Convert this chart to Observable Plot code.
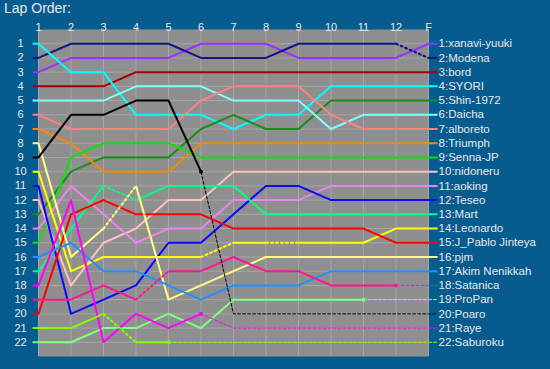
<!DOCTYPE html>
<html><head><meta charset="utf-8">
<script src="https://cdn.jsdelivr.net/npm/d3@7"></script>
<script src="https://cdn.jsdelivr.net/npm/@observablehq/plot@0.6"></script>
<style>
html,body{margin:0;padding:0;background:#075c8f;}
#wrap{position:relative;width:550px;height:369px;overflow:hidden;}
#title{position:absolute;left:4px;top:0px;font:14px "Liberation Sans",Arial,sans-serif;color:#e8e8e8;line-height:16px;}
#chart{position:absolute;left:0;top:0;}
</style></head><body><div id="wrap"><div id="chart"></div><div id="title">Lap Order:</div></div>
<script>
const lapLabels = ["1","2","3","4","5","6","7","8","9","10","11","12","F"];
const drivers = ["xanavi-yuuki","Modena","bord","SYORI","Shin-1972","Daicha","alboreto","Triumph","Senna-JP","nidoneru","aoking","Teseo","Mart","Leonardo","J_Pablo Jinteya","pjm","Akim Nenikkah","Satanica","ProPan","Poaro","Raye","Saburoku"];
const colors = ["#9b30ff","#141482","#a00000","#00ffff","#1a8c1a","#80ffff","#ff8080","#f28c00","#10e010","#ffc0c0","#ee82ee","#0a0aff","#00ff80","#ffff00","#ff0000","#ffff80","#1e90ff","#ff1493","#80ff80","#000000","#ff00ff","#80ff00"];
// position of each driver at laps 1..12 and F
const positions = [
  [3,2,2,2,2,1,1,1,2,2,2,2,1],
  [2,1,1,1,1,2,2,2,1,1,1,1,2],
  [4,4,4,3,3,3,3,3,3,3,3,3,3],
  [1,3,3,6,6,6,7,6,6,4,4,4,4],
  [13,10,9,9,9,7,6,7,7,5,5,5,5],
  [5,5,5,4,4,4,5,5,5,7,6,6,6],
  [6,7,7,7,7,5,4,4,4,6,7,7,7],
  [7,8,10,10,10,8,8,8,8,8,8,8,8],
  [15,9,8,8,8,9,9,9,9,9,9,9,9],
  [12,18,15,14,12,12,10,10,10,10,10,10,10],
  [14,11,13,15,14,14,12,12,12,11,11,11,11],
  [11,20,19,18,15,15,13,11,11,12,12,12,12],
  [17,14,11,12,11,11,11,13,13,13,13,13,13],
  [10,17,16,16,16,16,15,15,15,15,15,14,14],
  [20,13,12,13,13,13,14,14,14,14,14,15,15],
  [8,16,14,11,19,18,17,16,16,16,16,16,16],
  [16,15,17,17,18,19,18,18,18,17,17,17,17],
  [19,19,18,19,17,17,16,17,17,18,18,18,18],
  [22,22,21,21,20,21,19,19,19,19,19,19,19],
  [9,6,6,5,5,10,20,20,20,20,20,20,20],
  [18,12,22,20,21,20,21,21,21,21,21,21,21],
  [21,21,20,22,22,22,22,22,22,22,22,22,22]
];
// dotted (pit) segments: [driver, lap the segment starts at]
const pitSegments = [["Modena",12],["Triumph",11],["Leonardo",6],["Leonardo",8],["Mart",3],["pjm",3],["Satanica",4],["Saburoku",3]];
// retired drivers: last lap driven
const retiredNames = ["Poaro","Raye","Saburoku","ProPan","Satanica"];
const retiredLaps = [6,6,5,11,12];

const STUB_L = 0.82, STUB_R = 13.28;
const FONT = '"Liberation Sans", Arial, sans-serif';
const TXT = "#e8e8e8";

const pts = [];
let runId = 0;
drivers.forEach((name, d) => {
  const p = positions[d];
  const ri = retiredNames.indexOf(name);
  const ret = ri >= 0 ? retiredLaps[ri] : null;
  const segs = [{x1: STUB_L, y1: p[0], x2: 1, y2: p[0], style: "solid"}];
  for (let i = 0; i < 12; i++) {
    const lap = i + 1;
    let style = "solid";
    if (ret && lap >= ret) style = "retired";
    else if (pitSegments.some(([n, l]) => n === name && l === lap)) style = "pit";
    segs.push({x1: lap, y1: p[i], x2: lap + 1, y2: p[i + 1], style});
  }
  segs.push({x1: 13, y1: p[12], x2: STUB_R, y2: p[12], style: ret ? "retired" : "solid"});
  let cur = null;
  segs.forEach(s => {
    if (!cur || cur.style !== s.style) {
      cur = {id: runId++, style: s.style};
      pts.push({run: cur.id, style: s.style, color: colors[d], x: s.x1, y: s.y1});
    }
    pts.push({run: cur.id, style: s.style, color: colors[d], x: s.x2, y: s.y2});
  });
});

const marks = retiredNames.map((n, i) => {
  const d = drivers.indexOf(n);
  return {x: retiredLaps[i], y: positions[d][retiredLaps[i] - 1], color: colors[d]};
});

const rows = d3.range(1, 23);
const lapIdx = d3.range(1, 14);

const chart = Plot.plot({
  width: 550, height: 369,
  marginLeft: 38, marginRight: 122, marginTop: 29, marginBottom: 13,
  style: {background: "transparent", fontFamily: FONT},
  x: {domain: [1, 13], axis: null},
  y: {domain: [0, 23], reverse: true, axis: null},
  color: {type: "identity"},
  marks: [
    Plot.frame({fill: "#8f8f8f"}),
    Plot.gridX(lapIdx, {stroke: "#a6a6a6", strokeOpacity: 1}),
    Plot.gridY(rows, {stroke: "#a6a6a6", strokeOpacity: 1}),
    Plot.line(pts.filter(d => d.style === "solid"), {x: "x", y: "y", z: "run", stroke: "color", strokeWidth: 2, strokeLinejoin: "round", strokeLinecap: "butt"}),
    Plot.line(pts.filter(d => d.style === "pit"), {x: "x", y: "y", z: "run", stroke: "color", strokeWidth: 2, strokeDasharray: "2,3"}),
    Plot.line(pts.filter(d => d.style === "retired"), {x: "x", y: "y", z: "run", stroke: "color", strokeWidth: 1, strokeDasharray: "3,2"}),
    Plot.dot(marks, {x: "x", y: "y", fill: "color", r: 2}),
    Plot.text(lapIdx, {x: d => d, text: d => lapLabels[d - 1], frameAnchor: "top", dy: -6, fill: TXT, fontSize: 11}),
    Plot.text(rows, {y: d => d, text: d => String(d), frameAnchor: "left", dx: -18, textAnchor: "middle", fill: TXT, fontSize: 11}),
    Plot.text(drivers, {x: () => STUB_R, y: (n, i) => positions[i][12], text: (n, i) => positions[i][12] + ":" + n, textAnchor: "start", dx: 1, fill: TXT, fontSize: 11.5})
  ]
});
document.getElementById("chart").appendChild(chart);
</script>
</body></html>
